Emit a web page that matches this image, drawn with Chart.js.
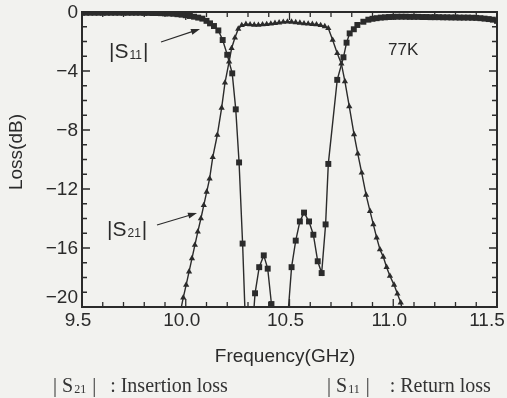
<!DOCTYPE html>
<html>
<head>
<meta charset="utf-8">
<script src="https://cdn.jsdelivr.net/npm/chart.js@4"></script>
<style>
  html, body { margin: 0; padding: 0; background: #f2f2ef; }
  #wrap { width: 507px; height: 398px; }
</style>
</head>
<body>
<div id="wrap"><canvas id="lossChart" width="507" height="398"></canvas></div>
<script>
// Ejes
const xTickValues = [9.5, 10.0, 10.5, 11.0, 11.5];
const yTickValues = [0, -4, -8, -12, -16, -20];

// |S21| : Insertion loss (triangulos)
const s21Freq = [9.970, 9.988, 10.002, 10.016, 10.030, 10.044, 10.058, 10.073, 10.087, 10.101, 10.115,
    10.130, 10.152, 10.173, 10.189, 10.209, 10.221, 10.237, 10.253, 10.270, 10.290,
    10.31, 10.33, 10.35, 10.37, 10.39, 10.41, 10.43, 10.45, 10.47, 10.49, 10.51, 10.53, 10.55,
    10.57, 10.59, 10.61, 10.63, 10.65, 10.67, 10.687, 10.708, 10.730, 10.750, 10.767, 10.788,
    10.811, 10.829, 10.848, 10.869, 10.888, 10.904, 10.920, 10.936, 10.952, 10.968, 10.984,
    11.004, 11.020, 11.036, 11.050];
const s21Loss = [-20.6, -19.37, -18.5, -17.6, -16.7, -15.8, -14.9, -14.0, -13.1, -12.2, -11.3,
    -9.85, -8.34, -6.5, -4.8, -3.37, -2.46, -1.75, -1.15, -0.9, -0.82,
    -0.85, -0.87, -0.88, -0.85, -0.83, -0.8, -0.76, -0.72, -0.68, -0.66, -0.67, -0.7, -0.74,
    -0.78, -0.8, -0.82, -0.85, -0.9, -0.98, -1.1, -1.9, -2.8, -3.5, -4.7, -6.4,
    -8.3, -9.6, -10.9, -12.4, -13.5, -14.4, -15.3, -16.1, -16.6, -17.3, -17.9,
    -18.5, -19.1, -19.7, -20.6];

// |S11| : Return loss (cuadrados)
const s11Freq = [9.50, 9.52, 9.54, 9.56, 9.58, 9.60, 9.62, 9.64, 9.66, 9.68, 9.70, 9.72, 9.74, 9.76,
    9.78, 9.80, 9.82, 9.84, 9.86, 9.88, 9.90, 9.92, 9.94, 9.96, 9.98, 10.00, 10.02, 10.04, 10.06,
    10.08, 10.10, 10.117, 10.136, 10.157, 10.178, 10.200, 10.224, 10.241, 10.257, 10.274, 10.291,
    10.308, 10.318, 10.334, 10.354, 10.376, 10.395, 10.413, 10.43, 10.45, 10.47, 10.49, 10.51,
    10.53, 10.55, 10.57, 10.594, 10.615, 10.636, 10.655, 10.674, 10.687, 10.73, 10.76, 10.775,
    10.79, 10.81, 10.827, 10.856, 10.88, 10.90, 10.92, 10.94, 10.96, 10.98, 11.00, 11.02, 11.04,
    11.06, 11.08, 11.10, 11.12, 11.14, 11.16, 11.18, 11.20, 11.22, 11.24, 11.26, 11.28, 11.30,
    11.32, 11.34, 11.36, 11.38, 11.40, 11.42, 11.44, 11.46, 11.48, 11.50];
const s11Loss = [-0.05, -0.05, -0.05, -0.05, -0.05, -0.05, -0.05, -0.05, -0.05, -0.05, -0.05, -0.05, -0.05, -0.05,
    -0.05, -0.06, -0.06, -0.07, -0.07, -0.08, -0.09, -0.1, -0.12, -0.15, -0.18, -0.22, -0.27, -0.32, -0.38,
    -0.45, -0.6, -0.77, -0.95, -1.25, -1.9, -2.9, -4.16, -6.6, -10.2, -15.7, -22.5,
    -29, -22.2, -19.07, -17.3, -16.5, -17.4, -19.8, -26, -30, -26, -21, -17.3,
    -15.5, -14.2, -13.6, -14.2, -15.1, -16.9, -17.7, -14.4, -10.3, -4.6, -3.07, -2.08,
    -1.45, -1.17, -0.88, -0.66, -0.52, -0.46, -0.42, -0.38, -0.36, -0.34, -0.33, -0.32, -0.32,
    -0.32, -0.33, -0.33, -0.33, -0.34, -0.34, -0.35, -0.35, -0.35, -0.36, -0.36, -0.37, -0.37,
    -0.38, -0.38, -0.38, -0.39, -0.4, -0.42, -0.45, -0.48, -0.52, -0.6];

const ink = '#2b2b2b';
const sans = '"Liberation Sans", Arial, sans-serif';
const serif = '"Liberation Serif", "DejaVu Serif", serif';

const toPoints = (freq, loss) => freq.map((f, i) => ({ x: f, y: loss[i] }));

// Flecha con punta rellena
const arrow = (ctx, x1, y1, x2, y2) => {
    const ang = Math.atan2(y2 - y1, x2 - x1);
    ctx.beginPath();
    ctx.moveTo(x1, y1);
    ctx.lineTo(x2 - 6 * Math.cos(ang), y2 - 6 * Math.sin(ang));
    ctx.stroke();
    ctx.beginPath();
    ctx.moveTo(x2, y2);
    ctx.lineTo(x2 - 9 * Math.cos(ang) + 3 * Math.sin(ang), y2 - 9 * Math.sin(ang) - 3 * Math.cos(ang));
    ctx.lineTo(x2 - 9 * Math.cos(ang) - 3 * Math.sin(ang), y2 - 9 * Math.sin(ang) + 3 * Math.cos(ang));
    ctx.closePath();
    ctx.fill();
}

// |S..| con subindice
const sLabel = (ctx, x, y, left, sub, right, big, small, font) => {
    ctx.textAlign = 'left';
    ctx.textBaseline = 'alphabetic';
    ctx.font = big + 'px ' + font;
    ctx.fillText(left, x, y);
    let w = ctx.measureText(left).width;
    ctx.font = small + 'px ' + font;
    ctx.fillText(sub, x + w + 1, y + 1);
    w += ctx.measureText(sub).width + 2;
    ctx.font = big + 'px ' + font;
    ctx.fillText(right, x + w, y);
    return x + w + ctx.measureText(right).width;
}

const framePlugin = {
    id: 'framePlugin',
    afterDraw(chart) {
        const { ctx, chartArea: a, scales: { x, y } } = chart;
        ctx.save();
        ctx.strokeStyle = ink;
        ctx.fillStyle = ink;

        // marco
        ctx.lineWidth = 2;
        ctx.strokeRect(a.left, a.top, a.right - a.left, a.bottom - a.top);

        // marcas hacia adentro
        ctx.lineWidth = 1.3;
        ctx.beginPath();
        for (let i = 0; i <= 20; i++) {
            const px = x.getPixelForValue(9.5 + i * 0.1);
            const len = i % 5 === 0 ? 8 : 5;
            ctx.moveTo(px, a.bottom); ctx.lineTo(px, a.bottom - len);
            ctx.moveTo(px, a.top); ctx.lineTo(px, a.top + len);
        }
        for (let i = 0; i <= 20; i++) {
            const py = y.getPixelForValue(-i);
            const len = i % 4 === 0 ? 8 : 5;
            ctx.moveTo(a.left, py); ctx.lineTo(a.left + len, py);
            ctx.moveTo(a.right, py); ctx.lineTo(a.right - len, py);
        }
        ctx.stroke();

        // etiquetas de los ejes
        ctx.font = '19px ' + sans;
        ctx.textAlign = 'center';
        ctx.textBaseline = 'middle';
        x.ticks.forEach(t => {
            const px = x.getPixelForValue(t.value);
            const dx = t.value === 11.5 ? -10 : -4;
            ctx.fillText(t.value.toFixed(1), px + dx, a.bottom + 14);
        });
        ctx.textAlign = 'right';
        y.ticks.forEach(t => {
            const py = y.getPixelForValue(t.value);
            const dy = t.value === -20 ? -9 : 1;
            const txt = t.value === 0 ? '0' : '\u2212' + Math.abs(t.value);
            ctx.fillText(txt, a.left - 4, py + dy);
        });

        // titulos
        ctx.textAlign = 'center';
        ctx.fillText('Frequency(GHz)', 285, 357);
        ctx.save();
        ctx.translate(17, 152);
        ctx.rotate(-Math.PI / 2);
        ctx.fillText('Loss(dB)', 0, 0);
        ctx.restore();

        // anotaciones
        ctx.font = '17px ' + sans;
        ctx.textAlign = 'left';
        ctx.fillText('77K', 388, 50);
        sLabel(ctx, 109, 58, '|S', '11', '|', 21, 12, sans);
        sLabel(ctx, 107, 236, '|S', '21', '|', 21, 12, sans);
        ctx.lineWidth = 1.2;
        arrow(ctx, 161, 42, 200, 29);
        arrow(ctx, 157, 225, 197, 213);

        // leyenda inferior
        ctx.fillStyle = '#333';
        let end = sLabel(ctx, 53, 392, '| S', '21', ' |', 20, 12, serif);
        ctx.font = '20px ' + serif;
        ctx.fillText(': Insertion loss', end + 14, 392);
        end = sLabel(ctx, 327, 392, '| S', '11', ' |', 20, 12, serif);
        ctx.font = '20px ' + serif;
        ctx.fillText(': Return loss', end + 20, 392);
        ctx.restore();
    }
};

new Chart(document.getElementById('lossChart'), {
    type: 'line',
    data: {
        datasets: [{
            label: '|S21|',
            data: toPoints(s21Freq, s21Loss),
            borderColor: ink,
            backgroundColor: ink,
            borderWidth: 1.4,
            pointStyle: 'triangle',
            pointRadius: 3.6,
            pointBorderWidth: 0,
            tension: 0
        }, {
            label: '|S11|',
            data: toPoints(s11Freq, s11Loss),
            borderColor: ink,
            backgroundColor: ink,
            borderWidth: 1.4,
            pointStyle: 'rect',
            pointRadius: 4.2,
            pointBorderWidth: 0,
            tension: 0
        }]
    },
    options: {
        responsive: false,
        animation: false,
        events: [],
        layout: { padding: { left: 0, top: 12, right: 10, bottom: 0 } },
        plugins: { legend: { display: false }, tooltip: { enabled: false } },
        scales: {
            x: {
                type: 'linear',
                min: 9.5,
                max: 11.5,
                afterBuildTicks: s => { s.ticks = xTickValues.map(v => ({ value: v })); },
                afterFit: s => { s.height = 91; },
                grid: { display: false },
                border: { display: false },
                ticks: { display: false }
            },
            y: {
                min: -20,
                max: 0,
                afterBuildTicks: s => { s.ticks = yTickValues.map(v => ({ value: v })); },
                afterFit: s => { s.width = 82; },
                grid: { display: false },
                border: { display: false },
                ticks: { display: false }
            }
        }
    },
    plugins: [framePlugin]
});
</script>
</body>
</html>
